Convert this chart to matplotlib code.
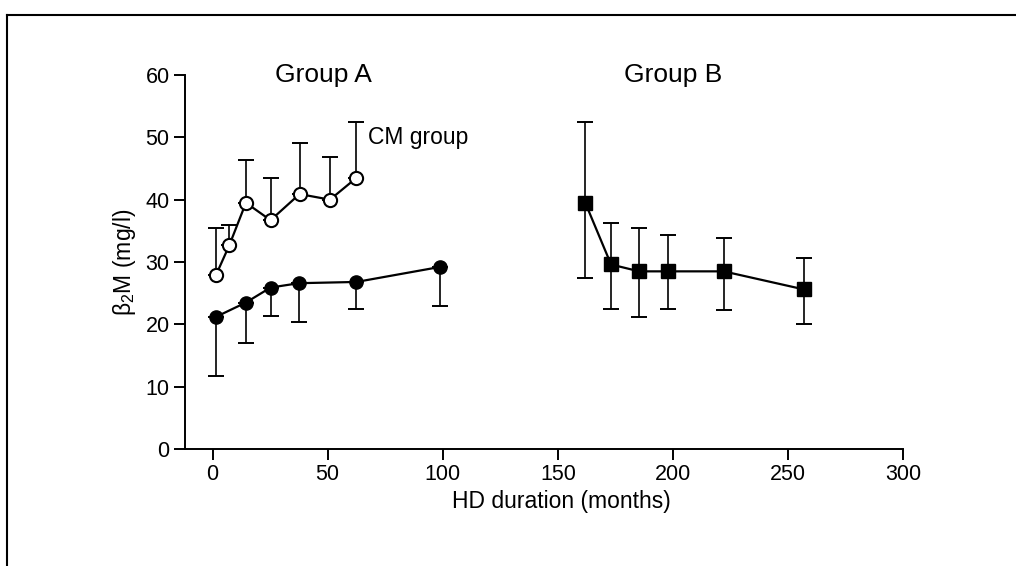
import matplotlib
matplotlib.use("Agg")
from matplotlib import pyplot as plt
from matplotlib.lines import Line2D

plt.rcParams['font.family'] = ['Liberation Sans', 'DejaVu Sans']

# CM group (open circles), upper error only
cm_x = [1.5, 7.3, 14.5, 25.2, 37.8, 51.0, 62.5]
cm_y = [27.9, 32.7, 39.5, 36.7, 40.9, 40.0, 43.5]
cm_up = [35.4, 35.9, 46.4, 43.5, 49.1, 46.8, 52.4]

# Group A (filled circles), lower error only
a_x = [1.5, 14.5, 25.2, 37.5, 62.5, 98.7]
a_y = [21.2, 23.5, 25.9, 26.6, 26.8, 29.2]
a_lo = [11.7, 17.0, 21.4, 20.4, 22.4, 23.0]

# Group B (filled squares), both errors
b_x = [161.9, 173.1, 185.3, 197.8, 222.0, 256.9]
b_y = [39.5, 29.6, 28.5, 28.5, 28.5, 25.6]
b_up = [52.5, 36.2, 35.4, 34.4, 33.8, 30.7]
b_lo = [27.4, 22.5, 21.1, 22.5, 22.3, 20.1]

xticks = [0, 50, 100, 150, 200, 250, 300]
yticks = [0, 10, 20, 30, 40, 50, 60]

fig = plt.figure(figsize=(10.16, 5.66), dpi=100)
ax = fig.add_axes([0.182, 0.2067, 0.707, 0.6608])

ek = dict(ecolor='black', elinewidth=1.2, capsize=5.5, capthick=1.4)

cm_err = [[0] * len(cm_y), [u - y for u, y in zip(cm_up, cm_y)]]
ax.errorbar(cm_x, cm_y, yerr=cm_err, fmt='none', **ek, zorder=2)
ax.plot(cm_x, cm_y, '-o', color='black', mfc='white', mec='black',
        ms=9.5, mew=1.5, lw=1.6, zorder=3)

a_err = [[y - l for y, l in zip(a_y, a_lo)], [0] * len(a_y)]
ax.errorbar(a_x, a_y, yerr=a_err, fmt='none', **ek, zorder=2)
ax.plot(a_x, a_y, '-o', color='black', ms=9.5, lw=1.6, zorder=3)

b_err = [[y - l for y, l in zip(b_y, b_lo)], [u - y for u, y in zip(b_up, b_y)]]
ax.errorbar(b_x, b_y, yerr=b_err, fmt='none', **ek, zorder=2)
ax.plot(b_x, b_y, '-s', color='black', ms=9.5, lw=1.6, zorder=3)

ax.set_xlim(-12, 300)
ax.set_ylim(0, 60)
ax.set_xticks(xticks)
ax.set_yticks(yticks)
ax.spines['top'].set_visible(False)
ax.spines['right'].set_visible(False)
for s in ['left', 'bottom']:
    ax.spines[s].set_linewidth(1.4)
ax.tick_params(direction='out', length=8, width=1.4, labelsize=15.5, pad=3)
ax.set_ylabel(r'$\mathregular{\beta_2}$M (mg/l)', fontsize=16.5)
ax.yaxis.set_label_coords(-0.066, 0.5)
ax.set_xlabel('HD duration (months)', fontsize=16.5)
ax.xaxis.set_label_coords(0.524, -0.11)

ax.text(48, 60, 'Group A', fontsize=19, ha='center', va='center')
ax.text(200, 60, 'Group B', fontsize=19, ha='center', va='center')
ax.text(67.5, 50, 'CM group', fontsize=16.5, ha='left', va='center')

# frame of the scanned page
fig.add_artist(Line2D([0.007, 1.0], [0.974, 0.974], color='black', lw=1.5))
fig.add_artist(Line2D([0.007, 0.007], [0.0, 0.974], color='black', lw=1.5))

fig.savefig('out.png', dpi=100)
